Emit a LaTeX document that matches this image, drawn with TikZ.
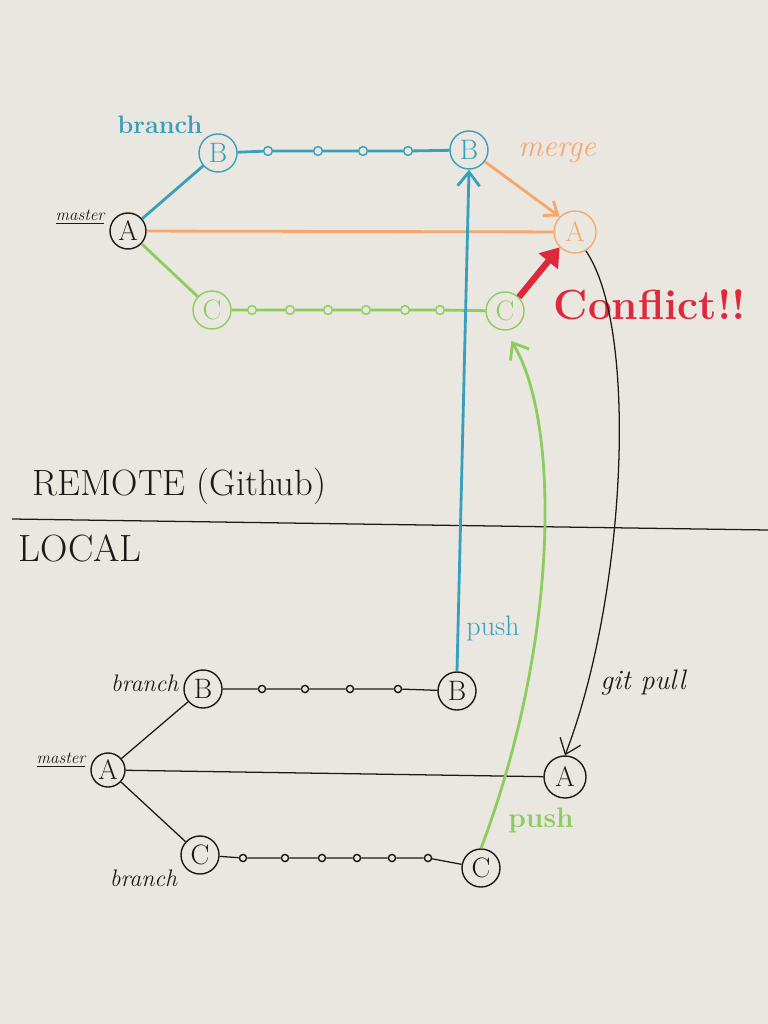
\documentclass[tikz,border=0pt]{standalone}
\usetikzlibrary{arrows.meta,positioning}
\definecolor{paper}{RGB}{234,231,224}
\definecolor{tealpen}{RGB}{55,160,188}
\definecolor{orangepen}{RGB}{246,168,108}
\definecolor{greenpen}{RGB}{140,205,95}
\definecolor{redpen}{RGB}{222,40,60}
\definecolor{inkpen}{RGB}{30,25,25}
\tikzset{
  commit/.style={draw, circle, minimum size=0.95cm, inner sep=0pt, line width=1pt, font=\fontsize{20}{22}\selectfont},
  dot/.style={draw, circle, minimum size=0.22cm, inner sep=0pt, line width=1pt},
  pen/.style={line width=2pt},
  ink/.style={line width=0.9pt, draw=inkpen},
  note/.style={font=\fontsize{17}{20}\selectfont\itshape},
}

\begin{document}
\begin{tikzpicture}[x=0.025cm, y=-0.025cm]
\fill[paper] (0,0) rectangle (768,1024);
\useasboundingbox (0,0) rectangle (768,1024);

% remote
\node (rA) [commit, inkpen, minimum size=0.9cm] at (128,231) {A};
\node (rB) [commit, tealpen] at (218,153) {B};
\node (rB2) [commit, tealpen] at (469,150) {B};
\node (rC) [commit, greenpen] at (212,310) {C};
\node (rC2) [commit, greenpen] at (505,311) {C};
\node (rM) [commit, orangepen, minimum size=1.05cm] at (575,232) {A};
\foreach \x [count=\i] in {268,318,363,408} \node (rb\i) [dot, tealpen] at (\x,151) {};
\foreach \x [count=\i] in {252,290,328,366,405,440} \node (rc\i) [dot, greenpen] at (\x,310) {};

\node (rmaster) [font=\fontsize{12}{14}\selectfont\itshape, inkpen, left=0pt of rA, yshift=0.35cm] {\underline{master}};
\node (rbranch) [font=\fontsize{18}{20}\selectfont\bfseries, tealpen] at (160,125) {branch};
\node (merge) [note, orangepen, font=\fontsize{22}{24}\selectfont\itshape] at (557,153) {merge};
\node (conflict) [font=\fontsize{30}{34}\selectfont\bfseries, redpen] at (650,305) {Conflict!!};

\draw[pen, tealpen] (rA) -- (rB);
\draw[pen, orangepen] (rA) -- (rM);
\draw[pen, greenpen] (rA) -- (rC);
\draw[pen, tealpen] (rB) -- (rb1) -- (rb2) -- (rb3) -- (rb4) -- (rB2);
\draw[pen, greenpen] (rC) -- (rc1) -- (rc2) -- (rc3) -- (rc4) -- (rc5) -- (rc6) -- (rC2);
\draw[pen, orangepen, -{Straight Barb[length=0.3cm, width=0.45cm]}] (rB2) -- (rM.north west);
\draw[line width=4.5pt, redpen, -{Triangle[length=0.45cm, width=0.6cm]}] (rC2.north east) -- (rM.south west);

% divider
\draw[ink] (12,519) -- (768,530);
\node (remote) [font=\fontsize{26}{30}\selectfont, inkpen, anchor=south west] at (28,510) {REMOTE (Github)};
\node (local) [font=\fontsize{27}{30}\selectfont, inkpen, anchor=north west] at (14,530) {LOCAL};

% local
\node (lA) [commit, inkpen, minimum size=0.85cm] at (108,770) {A};
\node (lB) [commit, inkpen] at (203,689) {B};
\node (lB2) [commit, inkpen] at (457,691) {B};
\node (lC) [commit, inkpen] at (200,855) {C};
\node (lC2) [commit, inkpen] at (481,868) {C};
\node (lA2) [commit, inkpen, minimum size=1.05cm] at (565,777) {A};
\foreach \x [count=\i] in {262,305,350,398} \node (lb\i) [dot, inkpen, minimum size=0.18cm] at (\x,689) {};
\foreach \x [count=\i] in {243,285,322,357,392,428} \node (lc\i) [dot, inkpen, minimum size=0.18cm] at (\x,858) {};

\node (lmaster) [font=\fontsize{12}{14}\selectfont\itshape, inkpen, left=0pt of lA, yshift=0.25cm] {\underline{master}};
\node (lbranchB) [note, inkpen, left=0pt of lB, yshift=0.15cm] {branch};
\node (lbranchC) [note, inkpen, below left=-0.1cm and 0.1cm of lC] {branch};
\node (pull) [note, inkpen, font=\fontsize{20}{22}\selectfont\itshape] at (643,683) {git pull};
\node (pushB) [tealpen, font=\fontsize{20}{22}\selectfont] at (493,628) {push};
\node (pushC) [greenpen, font=\fontsize{20}{22}\selectfont\bfseries] at (541,820) {push};

\draw[ink] (lA) -- (lB);
\draw[ink] (lA) -- (lA2);
\draw[ink] (lA) -- (lC);
\draw[ink] (lB) -- (lb1) -- (lb2) -- (lb3) -- (lb4) -- (lB2);
\draw[ink] (lC) -- (lc1) -- (lc2) -- (lc3) -- (lc4) -- (lc5) -- (lc6) -- (lC2);

% push and pull
\draw[pen, tealpen, -{Straight Barb[length=0.35cm, width=0.55cm]}] (lB2.north) -- (rB2.south);
\draw[pen, greenpen, shorten >=0.3cm, -{Straight Barb[length=0.35cm, width=0.55cm]}] (lC2.north) .. controls (560,640) and (560,420) .. (rC2.south);
\draw[ink, -{Straight Barb[length=0.35cm, width=0.55cm]}] (rM.-60) .. controls (640,330) and (625,600) .. (lA2.north);
\end{tikzpicture}
\end{document}
